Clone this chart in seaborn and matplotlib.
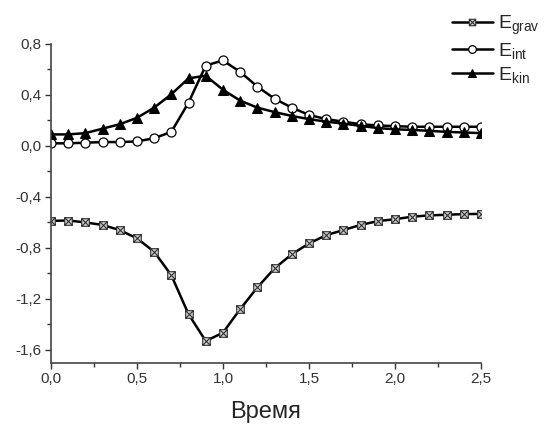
import numpy as np
import pandas as pd
import matplotlib
import matplotlib.pyplot as plt
from matplotlib.path import Path
from matplotlib.ticker import FuncFormatter, MultipleLocator
import seaborn as sns

# time axis and the three energy curves
time = [0.0, 0.1, 0.2, 0.3, 0.4, 0.5, 0.6, 0.7, 0.8, 0.9, 1.0, 1.1, 1.2,
        1.3, 1.4, 1.5, 1.6, 1.7, 1.8, 1.9, 2.0, 2.1, 2.2, 2.3, 2.4, 2.5]
e_grav = [-0.588, -0.585, -0.60, -0.62, -0.66, -0.725, -0.83, -1.015, -1.32,
          -1.53, -1.465, -1.28, -1.11, -0.96, -0.85, -0.765, -0.70, -0.66,
          -0.62, -0.59, -0.575, -0.555, -0.545, -0.54, -0.535, -0.533]
e_int = [0.02, 0.02, 0.025, 0.03, 0.03, 0.035, 0.06, 0.11, 0.34, 0.63, 0.67,
         0.58, 0.465, 0.37, 0.30, 0.243, 0.21, 0.19, 0.17, 0.16, 0.155, 0.15,
         0.15, 0.15, 0.15, 0.15]
e_kin = [0.09, 0.09, 0.10, 0.135, 0.17, 0.22, 0.30, 0.405, 0.53, 0.55, 0.44,
         0.355, 0.30, 0.265, 0.235, 0.21, 0.19, 0.175, 0.157, 0.14, 0.13,
         0.125, 0.118, 0.11, 0.105, 0.10]

sns.set_style("ticks")
plt.rcParams["font.family"] = ["Liberation Sans", "DejaVu Sans"]
plt.rcParams["mathtext.fontset"] = "custom"
plt.rcParams["mathtext.rm"] = "Liberation Sans"
plt.rcParams["mathtext.it"] = "Liberation Sans"

# square with crossed diagonals, like the Origin marker
box_x = Path(
    [(-1, -1), (1, -1), (1, 1), (-1, 1), (-1, -1), (-1, -1), (1, 1), (-1, 1), (1, -1)],
    [Path.MOVETO, Path.LINETO, Path.LINETO, Path.LINETO, Path.CLOSEPOLY,
     Path.MOVETO, Path.LINETO, Path.MOVETO, Path.LINETO],
)

fig = plt.figure(figsize=(5.47, 4.3), dpi=100)
ax = fig.add_axes([0.0932, 0.1565, 0.786, 0.7415])

styles = [
    (e_grav, r"$\mathrm{E_{grav}}$", dict(marker=box_x, markersize=5.5, markerfacecolor="#d0d0d0",
                                          markeredgecolor="#333333", markeredgewidth=0.8)),
    (e_int, r"$\mathrm{E_{int}}$", dict(marker="o", markersize=6.5, markerfacecolor="white",
                                        markeredgecolor="black", markeredgewidth=0.9)),
    (e_kin, r"$\mathrm{E_{kin}}$", dict(marker="^", markersize=7, markerfacecolor="black",
                                        markeredgecolor="black")),
]
for values, label, kw in styles:
    sns.lineplot(x=time, y=values, ax=ax, color="black", linewidth=1.8,
                 label=label, **kw)

ax.set_xlim(0, 2.5)
ax.set_ylim(-1.7, 0.8)
ax.xaxis.set_major_locator(MultipleLocator(0.5))
ax.xaxis.set_minor_locator(MultipleLocator(0.25))
ax.yaxis.set_major_locator(MultipleLocator(0.4))
ax.yaxis.set_minor_locator(MultipleLocator(0.2))
comma = FuncFormatter(lambda v, _: f"{v:.1f}".replace(".", ",").replace("-0,0", "0,0"))
ax.xaxis.set_major_formatter(comma)
ax.yaxis.set_major_formatter(comma)
ax.tick_params(which="major", direction="out", length=4.5, width=1, labelsize=11,
               pad=2, colors="#333333")
ax.tick_params(which="minor", direction="out", length=3, width=1, colors="#333333")
for s in ["left", "bottom"]:
    ax.spines[s].set_linewidth(1.2)
    ax.spines[s].set_color("#444444")
ax.spines["top"].set_visible(False)
ax.spines["right"].set_visible(False)

ax.set_xlabel("Время", fontsize=17, labelpad=11)
ax.set_ylabel("")

ax.legend(loc="upper left", bbox_to_anchor=(0.826, 0.968), bbox_transform=fig.transFigure,
          frameon=False, fontsize=14, handlelength=2.1, handletextpad=0.25,
          labelspacing=0.2, borderaxespad=0, borderpad=0, markerscale=0.85)

fig.savefig("out.png", dpi=100)
